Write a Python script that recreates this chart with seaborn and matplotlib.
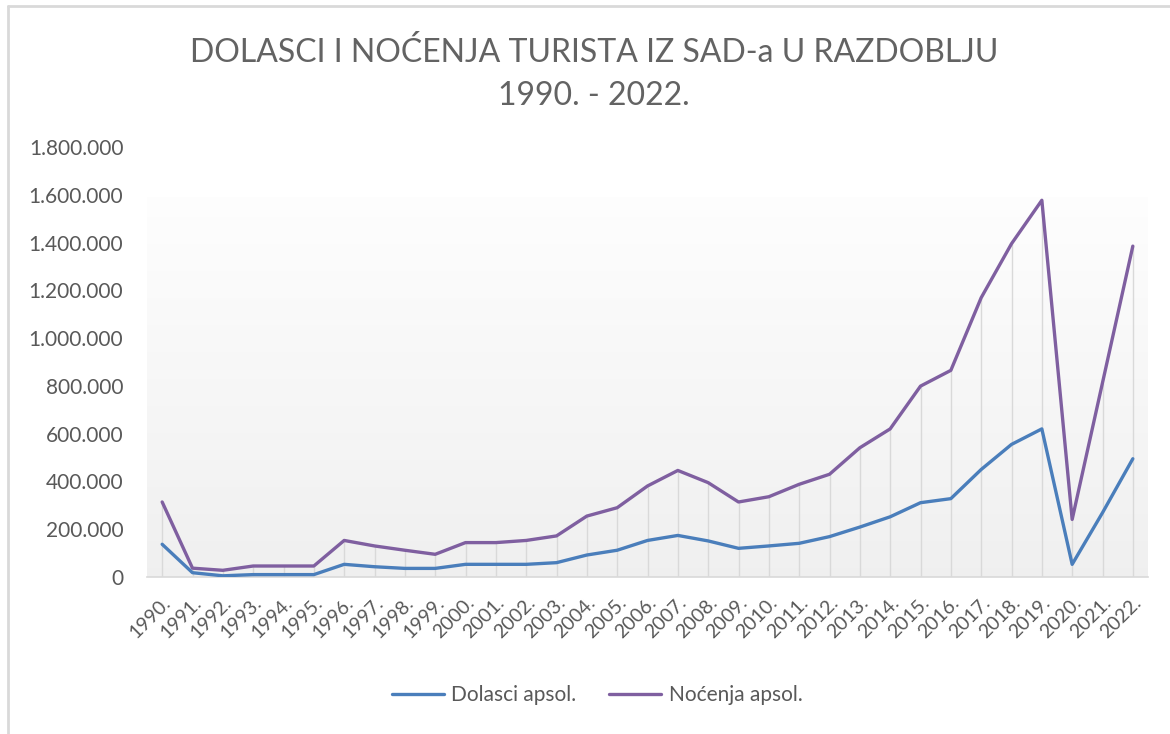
import numpy as np
import pandas as pd
import matplotlib
matplotlib.use("Agg")
import matplotlib.pyplot as plt
import seaborn as sns
from matplotlib.ticker import FuncFormatter
from matplotlib.lines import Line2D

years = [f"{y}." for y in range(1990, 2023)]
dolasci = [137000, 18000, 5000, 10000, 10000, 10000, 53000, 43000, 36000, 36000,
           53000, 53000, 53000, 60000, 92000, 112000, 153000, 174000, 151000, 120000,
           130000, 141000, 169000, 209000, 252000, 311000, 328000, 450000, 555000, 620000,
           53000, 269000, 495000]
nocenja = [314000, 37000, 28000, 46000, 46000, 46000, 153000, 130000, 112000, 95000,
           144000, 144000, 153000, 172000, 255000, 290000, 381000, 446000, 395000, 314000,
           336000, 388000, 430000, 541000, 620000, 799000, 865000, 1169000, 1395000, 1577000,
           241000, 813000, 1385000]
series_names = ["Dolasci apsol.", "Noćenja apsol."]
title_text = "DOLASCI I NOĆENJA TURISTA IZ SAD-a U RAZDOBLJU\n1990. - 2022."

sns.set_theme(style="white")
plt.rcParams['font.family'] = ['Lato', 'DejaVu Sans']

idx = np.arange(len(years))
df = pd.DataFrame({
    "idx": np.concatenate([idx, idx]),
    "value": dolasci + nocenja,
    "series": [series_names[0]] * len(years) + [series_names[1]] * len(years),
})

fig = plt.figure(figsize=(11.7, 7.34), dpi=100)
ax = fig.add_axes([147 / 1170, 1 - 577 / 734, (1148 - 147) / 1170, (577 - 147) / 734])

# gradient plot-area fill
grad = np.linspace(0.995, 0.94, 256).reshape(-1, 1)
ax.imshow(np.dstack([grad, grad, grad]), aspect="auto", transform=ax.transAxes,
          extent=(0, 1, 0, (577 - 197) / 430), zorder=0, interpolation="bicubic")

# drop lines
ax.vlines(idx, 0, np.maximum(dolasci, nocenja), colors="#d9d9d9", linewidth=1.0, zorder=1)

sns.lineplot(data=df, x="idx", y="value", hue="series",
             palette={series_names[0]: "#4a7ebb", series_names[1]: "#7f5fa0"},
             linewidth=2.4, ax=ax, zorder=3, legend=True)

ax.set_xlim(-0.5, len(years) - 0.5)
ax.set_ylim(0, 1800000)
ax.set_yticks(np.arange(0, 1800001, 200000))
ax.yaxis.set_major_formatter(FuncFormatter(lambda v, p: f"{v:,.0f}".replace(",", ".")))
ax.set_xticks(idx)
ax.set_xticklabels(years, rotation=45, ha="right", rotation_mode="anchor")
ax.tick_params(axis="y", labelsize=15, colors="#595959", length=0, pad=17)
ax.tick_params(axis="x", labelsize=14, colors="#595959", length=0, pad=12)
ax.set_xlabel("")
ax.set_ylabel("")
ax.set_facecolor("none")
for s in ["top", "right", "left"]:
    ax.spines[s].set_visible(False)
ax.spines["bottom"].set_color("#d9d9d9")
ax.spines["bottom"].set_linewidth(1.2)

leg = ax.legend(loc="center", bbox_to_anchor=((597 - 147) / 1001, 1 - (695 - 147) / 430), ncol=2,
                frameon=False, fontsize=15, handlelength=2.5, columnspacing=1.6, handletextpad=0.35)
for t in leg.get_texts():
    t.set_color("#595959")

fig.text(594 / 1170, 1 - 74 / 734, title_text, ha="center", va="center", fontsize=23,
         color="#636363", linespacing=1.55)

# chart border
fig.add_artist(Line2D([8 / 1170, 8 / 1170], [0, 1 - 6 / 734], color="#d9d9d9", linewidth=2))
fig.add_artist(Line2D([8 / 1170, 1], [1 - 6 / 734, 1 - 6 / 734], color="#d9d9d9", linewidth=2))

fig.savefig("out.png", dpi=100, facecolor="white")
